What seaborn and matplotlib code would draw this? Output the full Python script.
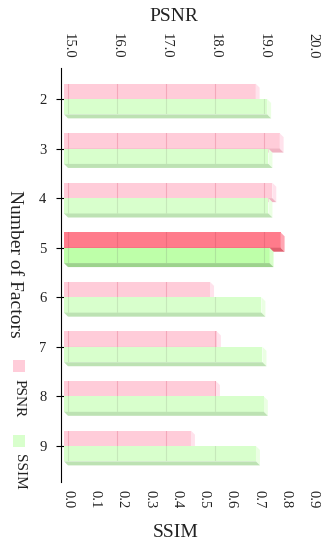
import pandas as pd
import matplotlib
matplotlib.use("Agg")
import matplotlib.pyplot as plt
import matplotlib.transforms as mtransforms
from matplotlib.patches import Polygon, Rectangle
from matplotlib.lines import Line2D
import seaborn as sns

# values
factors = ["2", "3", "4", "5", "6", "7", "8", "9"]
psnr = [18.91, 19.40, 19.25, 19.42, 17.98, 18.12, 18.10, 17.59]
ssim = [0.746, 0.751, 0.751, 0.755, 0.725, 0.729, 0.734, 0.705]
best = "5"

psnr_ticks = [15.0, 16.0, 17.0, 18.0, 19.0, 20.0]
ssim_ticks = [0.0, 0.1, 0.2, 0.3, 0.4, 0.5, 0.6, 0.7, 0.8, 0.9]

# face, right side, bottom side, grid line
pink = ("#FFCCD9", "#FFE2EC", "#F0B4C3", "#F3A8BA")
red = ("#FF7B8B", "#FFA5B2", "#E0606F", "#EE6C7D")
green = ("#D8FFCC", "#EBFFE3", "#BDE2B3", "#C6E8BA")
green_best = ("#BEFFA9", "#D8FFCA", "#9DD28D", "#AEE49D")

df = pd.DataFrame({
    "Factors": factors * 2,
    "Metric": ["PSNR"] * len(factors) + ["SSIM"] * len(factors),
    "Value": psnr + ssim,
})

sns.set_style("white")
plt.rcParams["font.family"] = ["Liberation Serif", "DejaVu Serif"]

W, H, DPI = 334, 546, 100
fig = plt.figure(figsize=(W / DPI, H / DPI), dpi=DPI)
left, right, top, bottom = 68, 313, 68, 482
ax = fig.add_axes([left / W, 1 - bottom / H, (right - left) / W, (bottom - top) / H])
ax2 = ax.twiny()

palette = {"PSNR": pink[0], "SSIM": green[0]}
common = dict(x="Value", y="Factors", hue="Metric", hue_order=["PSNR", "SSIM"],
              order=factors, palette=palette, width=0.62, orient="h", dodge=True,
              saturation=1, legend=False, errorbar=None, linewidth=0)
sns.barplot(data=df[df.Metric == "PSNR"], ax=ax, **common)
sns.barplot(data=df[df.Metric == "SSIM"], ax=ax2, **common)

ax.set_xlim(15, 20)
ax2.set_xlim(0, 0.9)
ax.set_ylim(7.726, -0.625)

ax.set_xticks(psnr_ticks, [f"{v:.1f}" for v in psnr_ticks])
ax2.set_xticks(ssim_ticks, [f"{v:.1f}" for v in ssim_ticks])
ax.xaxis.tick_top()
ax.xaxis.set_label_position("top")
ax2.xaxis.tick_bottom()
ax2.xaxis.set_label_position("bottom")

ax.tick_params(axis="x", length=0, pad=7, labelsize=10.5, labelrotation=-90, labelcolor="#222222")
ax2.tick_params(axis="x", length=0, pad=6, labelsize=10.5, labelrotation=-90, labelcolor="#222222")
ax.tick_params(axis="y", left=True, direction="inout", length=7, width=0.8,
               color="black", pad=7, labelsize=10.5, labelcolor="#222222")

for name, s in ax.spines.items():
    s.set_visible(name == "left")
for s in ax2.spines.values():
    s.set_visible(False)
ax.spines["left"].set_position(("outward", 5))
ax.spines["left"].set_color("black")
ax.spines["left"].set_linewidth(0.8)
ax.grid(False)
ax2.grid(False)

# fake 3d look: front faces pushed left, side faces added in pixel space
d = 4
shift = mtransforms.ScaledTranslation(-d / DPI, 0, fig.dpi_scale_trans)
clip = mtransforms.TransformedBbox(
    mtransforms.Bbox.from_extents(-d / (right - left), 0, 1, 1), ax.transAxes)
grid_trans = {a: mtransforms.blended_transform_factory(ax.transData, a.transAxes) for a in (ax, ax2)}


def extrude(a, plain, hi):
    bars = list(a.patches)
    for bar, lab in zip(bars, factors):
        face, side, under, grid = hi if lab == best else plain
        bar.set_facecolor(face)
        bar.set_transform(bar.get_data_transform() + shift)
        bar.set_clip_box(clip)
        ext = bar.get_window_extent()
        x0, x1 = max(ext.x0, clip.x0), ext.x1
        y0, y1 = ext.y0, ext.y1
        a.add_patch(Polygon([(x1, y1), (x1 + d, y1 - d), (x1 + d, y0 - d), (x1, y0)],
                            closed=True, facecolor=side, edgecolor="none",
                            transform=mtransforms.IdentityTransform(), clip_on=False))
        a.add_patch(Polygon([(x0, y0), (x1, y0), (x1 + d, y0 - d), (x0 + d, y0 - d)],
                            closed=True, facecolor=under, edgecolor="none",
                            transform=mtransforms.IdentityTransform(), clip_on=False))
        for v in psnr_ticks:
            ln = Line2D([v, v], [0, 1], color=grid, lw=0.8, transform=grid_trans[a])
            a.add_line(ln)
            ln.set_clip_path(bar)


extrude(ax, pink, red)
extrude(ax2, green, green_best)

ax.set_xlabel("PSNR", fontsize=14, color="#222222")
ax.xaxis.set_label_coords(0.433, 1.1256)
ax.xaxis.label.set_va("center")
ax2.set_xlabel("SSIM", fontsize=14, color="#222222")
ax2.xaxis.set_label_coords(0.441, -0.1208)
ax2.xaxis.label.set_va("center")
ax.set_ylabel("Number of Factors", fontsize=14, color="#222222", rotation=-90, va="center", ha="center")
ax.yaxis.set_label_coords(-0.2204, 0.528)

# legend, drawn by hand because its text is turned on its side
for label, col, sq_top, txt_mid in [("PSNR", pink[0], 360, 398), ("SSIM", green[0], 435, 472)]:
    fig.add_artist(Rectangle((13 / W, 1 - (sq_top + 12) / H), 12 / W, 12 / H,
                             transform=fig.transFigure, facecolor=col, edgecolor="none"))
    fig.text(19 / W, 1 - txt_mid / H, label, rotation=-90, fontsize=11,
             ha="center", va="center", color="#222222")

fig.savefig("out.png", dpi=DPI, facecolor="white")
